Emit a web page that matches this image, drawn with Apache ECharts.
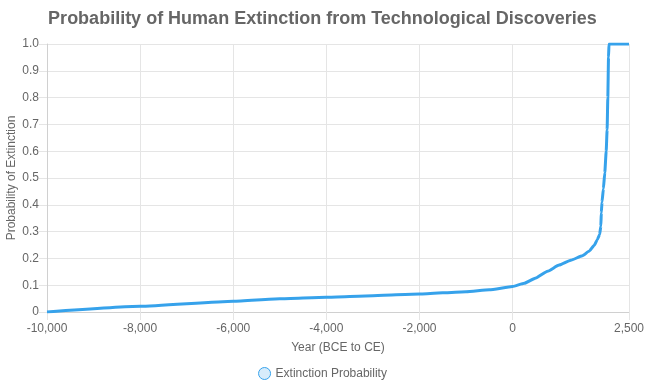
<!DOCTYPE html>
<html>
<head>
<meta charset="utf-8">
<script src="https://cdn.jsdelivr.net/npm/echarts@6/dist/echarts.min.js"></script>
<style>
html,body{margin:0;padding:0;background:#fff;}
#chart{width:645px;height:388px;}
</style>
</head>
<body>
<div id="chart"></div>
<script>
const titleText = 'Probability of Human Extinction from Technological Discoveries';
const seriesName = 'Extinction Probability';
const xAxisName = 'Year (BCE to CE)';
const yAxisName = 'Probability of Extinction';
const xTicks = [-10000, -8000, -6000, -4000, -2000, 0, 2500];
const years = [-10000, -8000, -6000, -5000, -4000, -3000, -2000, -1000, -500, 0, 250, 500, 750, 1000, 1250, 1500, 1650, 1750, 1820, 1870, 1895, 1905, 1920, 1950, 1980, 2010, 2030, 2045, 2060, 2070, 2500];
const probs = [0, 0.021, 0.040, 0.049, 0.055, 0.061, 0.067, 0.076, 0.083, 0.095, 0.107, 0.127, 0.152, 0.175, 0.193, 0.21, 0.228, 0.248, 0.27, 0.29, 0.32, 0.37, 0.41, 0.46, 0.52, 0.6, 0.68, 0.8, 0.95, 1.0, 1.0];

const data = years.map((y, i) => [y, probs[i]]);
const chart = echarts.init(document.getElementById('chart'), null, {renderer: 'canvas'});
const font = 'Liberation Sans, Arial, Helvetica, sans-serif';
const gridColor = '#e5e5e5';
chart.setOption({
  animation: false,
  textStyle: {fontFamily: font},
  title: {
    text: titleText,
    left: 'center',
    top: 5,
    textStyle: {fontFamily: font, fontSize: 18, fontWeight: 'bold', color: '#666'}
  },
  legend: {
    top: 362,
    left: 'center',
    icon: 'circle',
    itemWidth: 12,
    itemHeight: 12,
    itemGap: 10,
    textStyle: {fontFamily: font, fontSize: 12, color: '#666'},
    data: [{
      name: seriesName,
      itemStyle: {color: 'rgba(54,162,235,0.2)', borderColor: '#36A2EB', borderWidth: 1}
    }]
  },
  grid: {left: 47, right: 16, top: 44, bottom: 76, containLabel: false, outerBoundsMode: 'none'},
  xAxis: {
    type: 'value',
    min: -10000,
    max: 2500,
    name: xAxisName,
    nameLocation: 'middle',
    nameGap: 30,
    nameMoveOverlap: false,
    nameTextStyle: {fontFamily: font, fontSize: 12, color: '#666'},
    axisLine: {show: true, onZero: false, lineStyle: {color: '#d0d0d0'}},
    axisTick: {show: true, length: 8, lineStyle: {color: gridColor}, customValues: xTicks},
    axisLabel: {
      customValues: xTicks,
      margin: 11,
      fontSize: 12,
      color: '#666',
      fontFamily: font,
      formatter: v => Number(v).toLocaleString('en-US')
    },
    splitLine: {show: true, lineStyle: {color: gridColor}}
  },
  yAxis: {
    type: 'value',
    min: 0,
    max: 1,
    interval: 0.1,
    name: yAxisName,
    nameLocation: 'middle',
    nameGap: 29,
    nameMoveOverlap: false,
    nameTextStyle: {fontFamily: font, fontSize: 12, color: '#666'},
    axisLine: {show: true, onZero: false, lineStyle: {color: '#d0d0d0'}},
    axisTick: {show: true, length: 8, lineStyle: {color: gridColor}},
    axisLabel: {
      margin: 8,
      fontSize: 12,
      color: '#666',
      fontFamily: font,
      formatter: v => (v === 0 ? '0' : v.toFixed(1))
    },
    splitLine: {show: true, lineStyle: {color: gridColor}}
  },
  series: [{
    name: seriesName,
    type: 'line',
    data: data,
    smooth: 0.15,
    smoothMonotone: 'x',
    showSymbol: false,
    symbol: 'circle',
    lineStyle: {color: '#36A2EB', width: 3},
    itemStyle: {color: '#36A2EB'}
  }]
});
</script>
</body>
</html>
